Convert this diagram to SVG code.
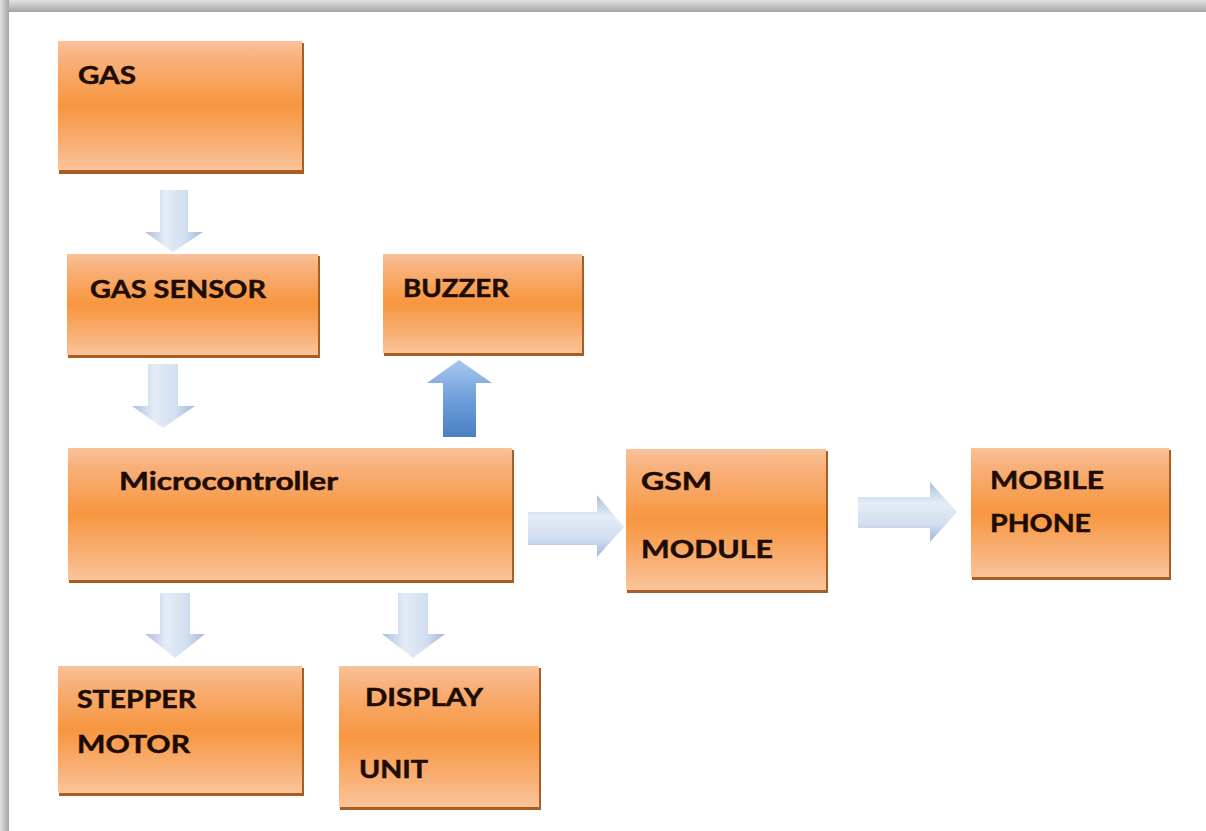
<svg xmlns="http://www.w3.org/2000/svg" width="1206" height="831" viewBox="0 0 1206 831">
<defs>
<linearGradient id="topband" x1="0" y1="0" x2="0" y2="1"><stop offset="0" stop-color="#e2e2e2"/><stop offset="1" stop-color="#a4a4a4"/></linearGradient>
<linearGradient id="leftband" x1="0" y1="0" x2="1" y2="0"><stop offset="0" stop-color="#e2e2e2"/><stop offset="1" stop-color="#a4a4a4"/></linearGradient>
<linearGradient id="box" x1="0" y1="0" x2="0" y2="1"><stop offset="0" stop-color="#f9c29a"/><stop offset="0.12" stop-color="#f8b27e"/><stop offset="0.5" stop-color="#f7963f"/><stop offset="0.85" stop-color="#f9b47e"/><stop offset="1" stop-color="#fac49a"/></linearGradient>
<linearGradient id="av" x1="0" y1="0" x2="1" y2="0"><stop offset="0" stop-color="#a9bfdc"/><stop offset="0.35" stop-color="#e4ecf6"/><stop offset="0.7" stop-color="#d2dff0"/><stop offset="1" stop-color="#a0b8d8"/></linearGradient>
<linearGradient id="ah" x1="0" y1="0" x2="0" y2="1"><stop offset="0" stop-color="#a9bfdc"/><stop offset="0.35" stop-color="#e4ecf6"/><stop offset="0.7" stop-color="#d2dff0"/><stop offset="1" stop-color="#a0b8d8"/></linearGradient>
<linearGradient id="aup" x1="0" y1="0" x2="0" y2="1"><stop offset="0" stop-color="#a9c8ee"/><stop offset="0.5" stop-color="#6f9fdb"/><stop offset="1" stop-color="#4a7fc4"/></linearGradient>
</defs>
<style>
.shadow{fill:#a85e22;}
.body{fill:url(#box);}
.lbl{font-family:Lato,"Open Sans","Liberation Sans",sans-serif;font-weight:bold;font-size:25px;fill:#1e0c02;stroke:#1e0c02;stroke-width:0.5;}
</style>
<rect x="0" y="0" width="1206" height="831" fill="#ffffff"/>
<rect x="0" y="0" width="1206" height="12" fill="url(#topband)"/>
<rect x="0" y="0" width="9" height="831" fill="url(#leftband)"/>

<g id="connectors">
<path d="M160,190 H188 V232 H203 L173,252 L145,232 H160 Z" fill="url(#av)"/>
<path d="M148,364 H178 V406 H195 L163,428 L132,406 H148 Z" fill="url(#av)"/>
<path d="M443,437 V383 H427 L459,360 L492,383 H476 V437 Z" fill="url(#aup)"/>
<path d="M528,512 H597 V495 L624,527 L597,557 V545 H528 Z" fill="url(#ah)"/>
<path d="M858,497 H930 V482 L957,512 L930,542 V528 H858 Z" fill="url(#ah)"/>
<path d="M160,593 H190 V634 H205 L175,658 L145,634 H160 Z" fill="url(#av)"/>
<path d="M398,593 H428 V634 H445 L413,658 L382,634 H398 Z" fill="url(#av)"/>
</g>

<g id="gas">
<rect class="shadow" x="59" y="43" width="245" height="131"/>
<rect class="body" x="58" y="41" width="244" height="129"/>
<text class="lbl" x="78" y="84" textLength="58" lengthAdjust="spacingAndGlyphs">GAS</text>
</g>
<g id="gas-sensor">
<rect class="shadow" x="68" y="256" width="252" height="102"/>
<rect class="body" x="67" y="254" width="251" height="101"/>
<text class="lbl" x="90" y="298" textLength="176" lengthAdjust="spacingAndGlyphs">GAS SENSOR</text>
</g>
<g id="buzzer">
<rect class="shadow" x="384" y="256" width="200" height="100"/>
<rect class="body" x="383" y="254" width="199" height="99"/>
<text class="lbl" x="403" y="297" textLength="106" lengthAdjust="spacingAndGlyphs">BUZZER</text>
</g>
<g id="microcontroller">
<rect class="shadow" x="69" y="450" width="445" height="133"/>
<rect class="body" x="68" y="448" width="444" height="132"/>
<text class="lbl" x="119" y="490" textLength="219" lengthAdjust="spacingAndGlyphs">Microcontroller</text>
</g>
<g id="gsm-module">
<rect class="shadow" x="627" y="451" width="201" height="142"/>
<rect class="body" x="626" y="449" width="200" height="141"/>
<text class="lbl" x="641" y="490" textLength="71" lengthAdjust="spacingAndGlyphs">GSM</text>
<text class="lbl" x="641" y="558" textLength="132" lengthAdjust="spacingAndGlyphs">MODULE</text>
</g>
<g id="mobile-phone">
<rect class="shadow" x="972" y="450" width="199" height="130"/>
<rect class="body" x="971" y="448" width="198" height="129"/>
<text class="lbl" x="990" y="489" textLength="114" lengthAdjust="spacingAndGlyphs">MOBILE</text>
<text class="lbl" x="990" y="532" textLength="101" lengthAdjust="spacingAndGlyphs">PHONE</text>
</g>
<g id="stepper-motor">
<rect class="shadow" x="59" y="668" width="245" height="128"/>
<rect class="body" x="58" y="666" width="244" height="127"/>
<text class="lbl" x="77" y="708" textLength="119" lengthAdjust="spacingAndGlyphs">STEPPER</text>
<text class="lbl" x="77" y="753" textLength="113" lengthAdjust="spacingAndGlyphs">MOTOR</text>
</g>
<g id="display-unit">
<rect class="shadow" x="340" y="668" width="201" height="142"/>
<rect class="body" x="339" y="666" width="200" height="141"/>
<text class="lbl" x="365" y="706" textLength="118" lengthAdjust="spacingAndGlyphs">DISPLAY</text>
<text class="lbl" x="359" y="778" textLength="69" lengthAdjust="spacingAndGlyphs">UNIT</text>
</g>
</svg>
